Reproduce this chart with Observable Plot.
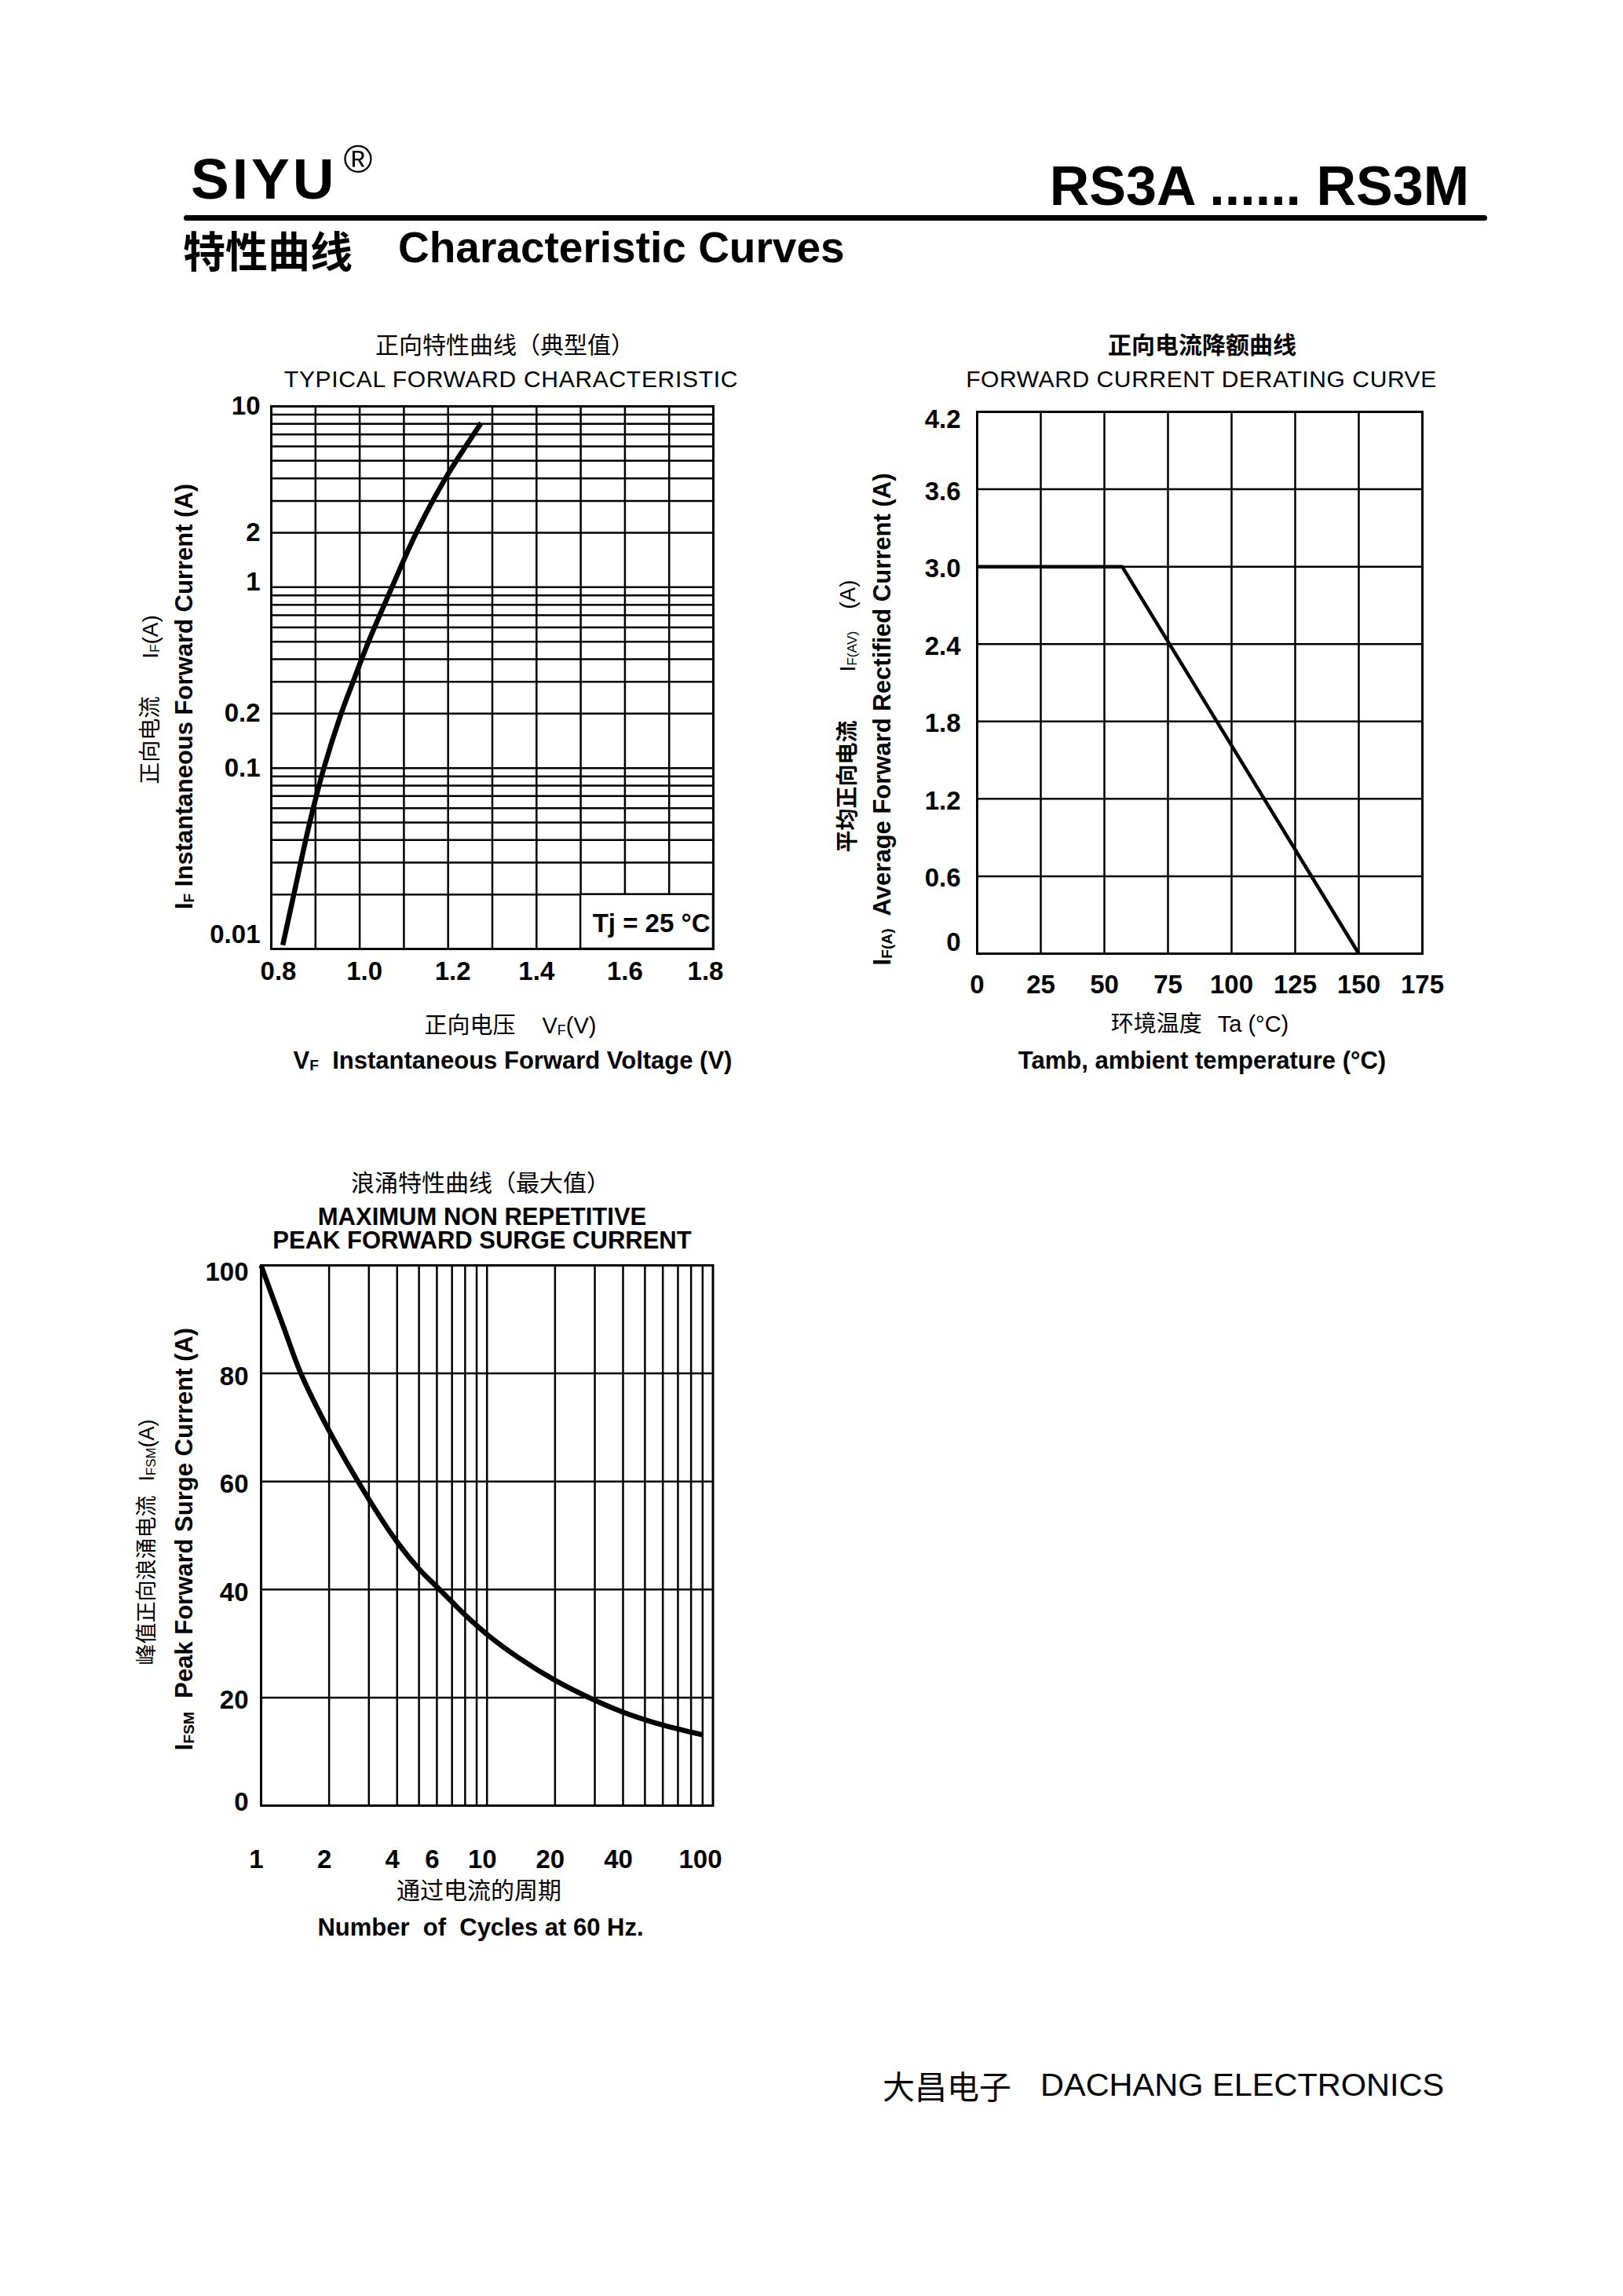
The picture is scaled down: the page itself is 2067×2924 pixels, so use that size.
<!DOCTYPE html>
<html>
<head>
<meta charset="utf-8">
<script src="https://cdn.jsdelivr.net/npm/d3@7"></script>
<script src="https://cdn.jsdelivr.net/npm/@observablehq/plot@0.6"></script>
<style>
  html, body { margin: 0; padding: 0; background: #fff; }
  #page {
    position: relative; width: 2067px; height: 2924px; overflow: hidden; background: #fff; color: #000;
    font-family: "Liberation Sans", Arial, Helvetica, "Noto Sans CJK SC", sans-serif;
  }
  .t { position: absolute; white-space: pre; line-height: 1; }
  .t sub { font-size: 0.62em; vertical-align: baseline; position: relative; top: 0.12em; }
  .cjk, .t .cjk { font-family: "Noto Sans CJK SC", sans-serif; }
  .panel { position: absolute; }
  .panel svg { max-width: none; display: block; }
  .rule { position: absolute; background: #000; border-radius: 4px; }
</style>
</head>
<body>
<div id="page"></div>
<script>
// ---- Typical forward characteristic, Tj = 25 °C ----
const vfVolts = [0.826, 0.851, 0.887, 0.919, 0.958, 0.985, 1.02, 1.073, 1.128, 1.194, 1.275];
const ifAmps  = [0.0105, 0.02, 0.05, 0.1, 0.2, 0.3, 0.5, 1, 2, 4, 8.1];
const vfTicks = [0.8, 1.0, 1.2, 1.4, 1.6, 1.8];
const vfGrid  = [0.9, 1.0, 1.1, 1.2, 1.3, 1.4, 1.5, 1.6, 1.7];
const ifTicks = [10, 2, 1, 0.2, 0.1, 0.01];
const ifDecades = [0.01, 0.1, 1];
const tjNote = "Tj = 25 °C";

// ---- Forward current derating curve ----
const ambientC  = [0, 57, 150];
const ifavAmps  = [3.0, 3.0, 0];
const tempTicks = [0, 25, 50, 75, 100, 125, 150, 175];
const ifavTicks = [0, 0.6, 1.2, 1.8, 2.4, 3.0, 3.6, 4.2];

// ---- Maximum non-repetitive peak forward surge current ----
const cycles     = [1, 1.26, 1.5, 2, 3, 4, 5, 6, 7, 8, 10, 14, 20, 30, 40, 50, 60, 80, 90];
const surgeAmps  = [100, 88.5, 80, 69.4, 56.7, 48.8, 43.8, 40.5, 37.7, 35.3, 31.7, 27.2, 23.2, 19.5, 17.3, 15.9, 14.9, 13.6, 13.1];
const cycleTicks = [1, 2, 4, 6, 10, 20, 40, 100];
const cycleDecades = [1, 10];
const surgeTicks = [0, 20, 40, 60, 80, 100];

const page = document.getElementById("page");
const FONT = '"Liberation Sans", Arial, Helvetica, sans-serif';
const INK = "#000";
const gridStyle = {stroke: INK, strokeOpacity: 1, strokeWidth: 2.5};
const frameStyle = {stroke: INK, strokeWidth: 3};

// minor log grid lines (1..9 per decade)
const logGrid = (decades, lo) =>
  decades.flatMap(d => [1, 2, 3, 4, 5, 6, 7, 8, 9].map(k => +(k * d).toPrecision(3))).filter(v => v > lo);

function put(html, x, y, size, o = {}) {
  const d = document.createElement("div");
  d.className = "t" + (o.cjk ? " cjk" : "");
  d.innerHTML = html;
  d.style.left = x + "px";
  d.style.top = y + "px";
  d.style.fontSize = size + "px";
  d.style.fontWeight = o.weight || "normal";
  if (o.ls) d.style.letterSpacing = o.ls + "px";
  const tx = o.anchor === "start" ? "0" : o.anchor === "end" ? "-100%" : "-50%";
  d.style.transform = `translate(${tx},-50%)` + (o.rotate ? " rotate(-90deg)" : "");
  page.appendChild(d);
}

function panel(frame, margins, options) {
  const [mt, mr, mb, ml] = margins;
  const w = frame.width + ml + mr, h = frame.height + mt + mb;
  const svg = Plot.plot({
    width: w, height: h,
    marginTop: mt, marginRight: mr, marginBottom: mb, marginLeft: ml,
    style: {fontFamily: FONT, fontSize: "33px", fontWeight: "bold", color: INK, background: "transparent", overflow: "visible", maxWidth: "none"},
    ...options
  });
  const wrap = document.createElement("div");
  wrap.className = "panel";
  wrap.style.left = (frame.left - ml) + "px";
  wrap.style.top = (frame.top - mt) + "px";
  wrap.style.width = w + "px";
  wrap.style.height = h + "px";
  wrap.appendChild(svg);
  page.appendChild(wrap);
}

// ---------- header ----------
put("SIYU", 243, 227, 73, {weight: "bold", anchor: "start", ls: 4});
put("®", 456, 203, 50);
put("RS3A ...... RS3M", 1871, 237, 70, {weight: "bold", anchor: "end"});
const rule = document.createElement("div");
rule.className = "rule";
Object.assign(rule.style, {left: "234px", top: "274px", width: "1660px", height: "7px"});
page.appendChild(rule);
put("特性曲线", 233, 318, 54, {cjk: true, weight: "bold", anchor: "start"});
put("Characteristic Curves", 507, 315, 55, {weight: "bold", anchor: "start"});

// ---------- forward characteristic ----------
const fwd = vfVolts.map((v, i) => ({v, a: ifAmps[i]}));
const ax1 = {tickSize: 0, tickPadding: 14, tickFormat: d => String(d)};
const bx1 = {tickSize: 0, tickPadding: 16, tickFormat: d => d.toFixed(1)};
panel({left: 345, top: 517, width: 563, height: 691}, [20, 30, 70, 100], {
  x: {domain: [0.8, 1.8], label: null},
  y: {type: "log", domain: [0.01, 10], label: null},
  marks: [
    Plot.gridX(vfGrid, gridStyle),
    Plot.gridY(logGrid(ifDecades, 0.01), gridStyle),
    Plot.rect([{x1: 1.5, x2: 1.8, y1: 0.01, y2: 0.02}], {x1: "x1", x2: "x2", y1: "y1", y2: "y2", fill: "#fff", stroke: INK, strokeWidth: 2.5}),
    Plot.frame(frameStyle),
    Plot.axisX(vfTicks.filter(d => d === 0.8), {...bx1, dx: 9}),
    Plot.axisX(vfTicks.filter(d => d === 1.0 || d === 1.2), {...bx1, dx: 6}),
    Plot.axisX(vfTicks.filter(d => d === 1.4 || d === 1.6), bx1),
    Plot.axisX(vfTicks.filter(d => d === 1.8), {...bx1, dx: -10}),
    Plot.axisY(ifTicks.filter(d => d !== 1 && d !== 0.01), ax1),
    Plot.axisY([1], {...ax1, dy: -6}),
    Plot.axisY([0.01], {...ax1, dy: -18}),
    Plot.line(fwd, {x: "v", y: "a", curve: "catmull-rom", stroke: INK, strokeWidth: 6.5, strokeLinecap: "butt"}),
    Plot.text([tjNote], {frameAnchor: "bottom-right", textAnchor: "end", lineAnchor: "middle", dx: -4, dy: -32, fill: INK})
  ]
});
put("正向特性曲线（典型值）", 643, 437, 30, {cjk: true});
put("TYPICAL FORWARD CHARACTERISTIC", 651, 483, 30, {ls: 0.7});
put('<span class="cjk">正向电压</span><span style="margin-left:34px">V<sub>F</sub>(V)</span>', 650, 1305, 29);
put("V<sub>F</sub>  Instantaneous Forward Voltage (V)", 653, 1350, 31, {weight: "bold"});
put("I<sub>F</sub> Instantaneous Forward Current (A)", 234, 887, 31, {weight: "bold", rotate: true});
put('<span class="cjk">正向电流</span><span style="margin-left:48px">I<sub>F</sub>(A)</span>', 190, 891, 28, {rotate: true});

// ---------- derating curve ----------
const derating = ambientC.map((t, i) => ({t, a: ifavAmps[i]}));
const ax2 = {tickSize: 0, tickPadding: 21, tickFormat: d => (d === 0 ? "0" : d.toFixed(1))};
panel({left: 1244, top: 524, width: 567, height: 690}, [20, 50, 70, 100], {
  x: {domain: [0, 175], label: null},
  y: {domain: [0, 4.2], label: null},
  marks: [
    Plot.gridX(tempTicks, gridStyle),
    Plot.gridY(ifavTicks, gridStyle),
    Plot.frame(frameStyle),
    Plot.axisX(tempTicks, {tickSize: 0, tickPadding: 27}),
    Plot.axisY(ifavTicks.filter(d => d > 0 && d < 4.2), {...ax2, dy: 3}),
    Plot.axisY([4.2], {...ax2, dy: 10}),
    Plot.axisY([0], {...ax2, dy: -14}),
    Plot.line(derating, {x: "t", y: "a", stroke: INK, strokeWidth: 4.5, strokeLinecap: "butt"})
  ]
});
put("正向电流降额曲线", 1531, 437, 30, {cjk: true, weight: "bold"});
put("FORWARD CURRENT DERATING CURVE", 1530, 483, 30, {ls: 0.6});
put('<span class="cjk">环境温度</span><span style="margin-left:20px">Ta (°C)</span>', 1528, 1303, 29);
put("Tamb, ambient temperature (°C)", 1531, 1350, 31, {weight: "bold"});
put("I<sub>F(A)</sub>  Average Forward Rectified Current (A)", 1123, 916, 31, {weight: "bold", rotate: true});
put('<span class="cjk" style="font-weight:bold">平均正向电流</span><span style="margin-left:62px">I<sub>F(AV)</sub></span><span style="margin-left:28px">(A)</span>', 1078, 912, 28, {rotate: true});

// ---------- surge current ----------
const surge = cycles.map((n, i) => ({n, a: surgeAmps[i]}));
const ax3 = {tickSize: 0, tickPadding: 16};
const cycleLabel = {x: d => d, text: d => String(d), frameAnchor: "bottom", lineAnchor: "top", dy: 56, fill: INK};
panel({left: 331.5, top: 1611, width: 575.5, height: 688}, [20, 30, 100, 100], {
  x: {type: "log", domain: [1, 100], label: null, axis: null},
  y: {domain: [0, 100], label: null},
  marks: [
    Plot.gridX(logGrid(cycleDecades, 1).filter(v => v < 100), gridStyle),
    Plot.gridY(surgeTicks.filter(d => d > 0 && d < 100), gridStyle),
    Plot.frame(frameStyle),
    Plot.text(cycleTicks.filter(d => d < 100), {...cycleLabel, dx: -6}),
    Plot.text(cycleTicks.filter(d => d === 100), {...cycleLabel, dx: -16}),
    Plot.axisY(surgeTicks.filter(d => d > 0 && d < 100), {...ax3, dy: 4}),
    Plot.axisY([100], {...ax3, dy: 9}),
    Plot.axisY([0], {...ax3, dy: -4}),
    Plot.line(surge, {x: "n", y: "a", curve: "catmull-rom", stroke: INK, strokeWidth: 6.5, strokeLinecap: "butt"})
  ]
});
put("浪涌特性曲线（最大值）", 612, 1504, 30, {cjk: true});
put("MAXIMUM NON REPETITIVE", 614, 1549, 31, {weight: "bold"});
put("PEAK FORWARD SURGE CURRENT", 614, 1579, 31, {weight: "bold"});
put("通过电流的周期", 610, 2405, 30, {cjk: true});
put("Number  of  Cycles at 60 Hz.", 612, 2454, 31, {weight: "bold"});
put("I<sub>FSM</sub>  Peak Forward Surge Current (A)", 234, 1960, 31, {weight: "bold", rotate: true});
put('<span class="cjk">峰值正向浪涌电流</span><span style="margin-left:18px">I<sub>FSM</sub>(A)</span>', 186, 1964, 27, {rotate: true});

// ---------- footer ----------
put("大昌电子", 1124, 2655, 41, {cjk: true, anchor: "start"});
put("DACHANG ELECTRONICS", 1325, 2655, 41.5, {anchor: "start"});
</script>
</body>
</html>
